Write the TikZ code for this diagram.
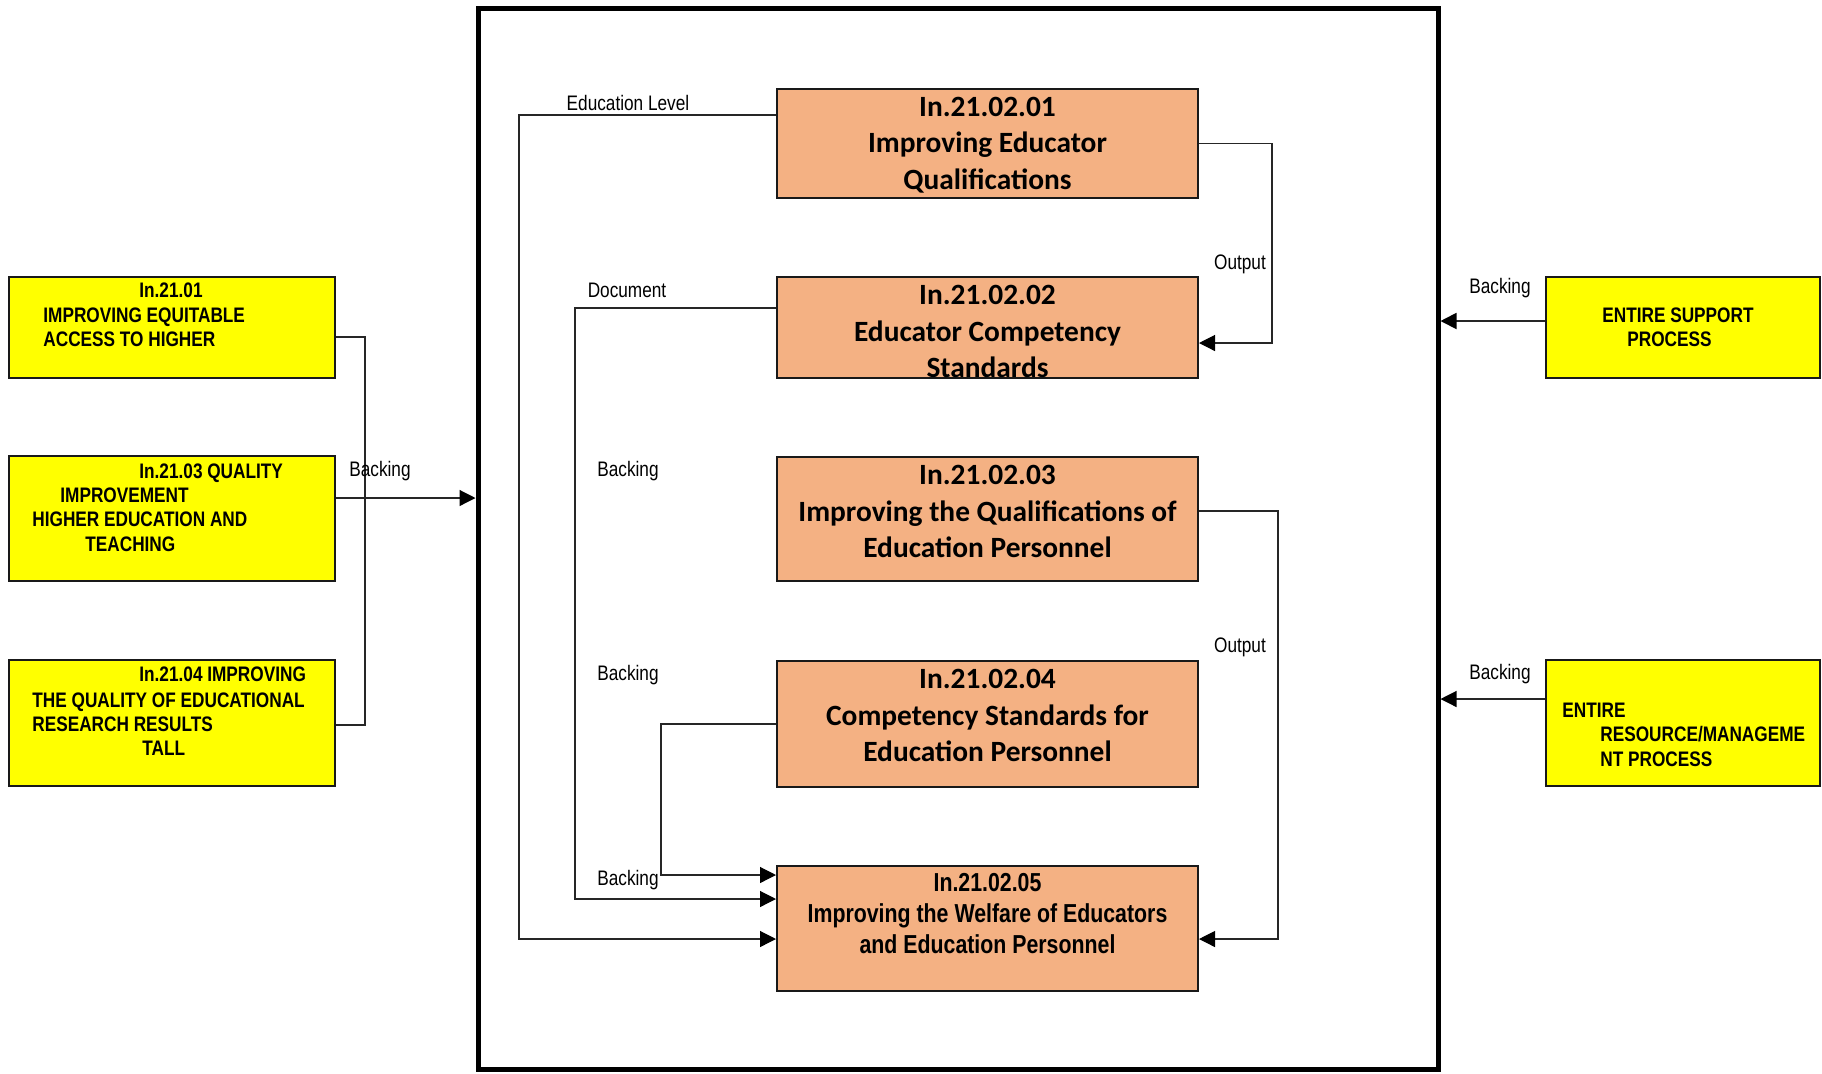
\documentclass[tikz,border=0pt]{standalone}
\usepackage{fontspec}
\usetikzlibrary{arrows.meta,calc}
\newfontfamily\narrowfont[FakeStretch=0.82]{Liberation Sans}
\newfontfamily\calfont{Carlito}
\definecolor{procfill}{HTML}{F4B183}
\definecolor{extfill}{HTML}{FFFF00}
\definecolor{wire}{gray}{0.15}

\begin{document}
\begin{tikzpicture}[x=0.5pt,y=-0.5pt,
  procbox/.style={draw=black!90,line width=1pt,fill=procfill,minimum width=210.5pt,inner sep=0pt},
  extbox/.style={draw=black!90,line width=1pt,fill=extfill,inner sep=0pt},
  proctext/.style={font=\calfont\bfseries\fontsize{14.7}{18.2}\selectfont,align=center,inner sep=0pt},
  welftext/.style={font=\narrowfont\bfseries\fontsize{13}{15.6}\selectfont,align=center,inner sep=0pt},
  ytext/.style={font=\narrowfont\bfseries\fontsize{10.5}{12}\selectfont,inner sep=0pt,anchor=base west},
  lbl/.style={font=\narrowfont\fontsize{10.5}{12}\selectfont,inner sep=0pt},
  conn/.style={draw=wire,line width=0.6pt},
  arr/.style={-{Triangle[length=8pt,width=8pt,color=black]}},
]
\useasboundingbox (0,0) rectangle (1822,1073);

% system boundary
\node[draw,line width=2.5pt,minimum width=480pt,minimum height=530.5pt,inner sep=0pt] (sys) at (958,538.5) {};

% inner process boxes
\node[procbox,minimum height=54.5pt] (o1) at (987.5,143.5) {};
\node[procbox,minimum height=50.5pt] (o2) at (987.5,327.5) {};
\node[procbox,minimum height=62pt]   (o3) at (987.5,519) {};
\node[procbox,minimum height=63pt]   (o4) at (987.5,724) {};
\node[procbox,minimum height=62.5pt] (o5) at (987.5,928.5) {};

% external boxes, left
\node[extbox,minimum width=163pt,minimum height=50.5pt] (yA) at (172,327.5) {};
\node[extbox,minimum width=163pt,minimum height=62.5pt] (yB) at (172,518.5) {};
\node[extbox,minimum width=163pt,minimum height=63pt]   (yC) at (172,723) {};
% external boxes, right
\node[extbox,minimum width=137pt,minimum height=50.5pt] (yD) at (1683,327.5) {};
\node[extbox,minimum width=137pt,minimum height=63pt]   (yE) at (1683,723) {};

% left inputs joined on one bus
\draw[conn] ([yshift=-4.75pt]yA.east) -- ++(14.5pt,0) |- ([yshift=-1pt]yC.east);
\coordinate (bOut) at ([yshift=10.25pt]yB.east);
\draw[conn,arr] (bOut) -- (bOut -| sys.west);

% right supports
\coordinate (dOut) at ([yshift=3.25pt]yD.west);
\draw[conn,arr,line width=0.9pt] (dOut) -- (dOut -| sys.east);
\coordinate (eOut) at ([yshift=12pt]yE.west);
\draw[conn,arr] (eOut) -- (eOut -| sys.east);

% inner flows
\draw[conn,arr] ([yshift=14.25pt]o1.west) -- ++(-128.5pt,0) |- ([yshift=-5.25pt]o5.west);
\draw[conn,arr] ([yshift=9.75pt]o2.west) -- ++(-100.5pt,0) |- ([yshift=14.75pt]o5.west);
\draw[conn,arr] (o4.west) -- ++(-57.5pt,0) |- ([yshift=26.75pt]o5.west);
\draw[conn,arr] (o1.east) -- ++(36.5pt,0) |- ([yshift=-7.75pt]o2.east);
\draw[conn,arr] ([yshift=4pt]o3.east) -- ++(39.5pt,0) |- ([yshift=-5.25pt]o5.east);

% process titles
\node[proctext] (t1) at (987.5,145) {In.21.02.01\\Improving Educator\\Qualifications};
\node[proctext] (t2) at (987.5,331.5) {In.21.02.02\\Educator Competency\\Standards};
\node[proctext] (t3) at (987.5,511.5) {In.21.02.03\\Improving the Qualifications of\\Education Personnel};
\node[proctext] (t4) at (987.5,715.5) {In.21.02.04\\Competency Standards for\\Education Personnel};
\node[welftext] (t5) at (987.5,913.5) {In.21.02.05\\Improving the Welfare of Educators\\and Education Personnel};

% external box texts
\node[ytext] (a1) at (139,297.5) {In.21.01};
\node[ytext] (a2) at (43,322.5) {IMPROVING EQUITABLE};
\node[ytext] (a3) at (43,346.5) {ACCESS TO HIGHER};

\node[ytext] (b1) at (139,478.5) {In.21.03 QUALITY};
\node[ytext] (b2) at (60,502.5) {IMPROVEMENT};
\node[ytext] (b3) at (32,526.5) {HIGHER EDUCATION AND};
\node[ytext] (b4) at (85,551.5) {TEACHING};

\node[ytext] (c1) at (139,681.5) {In.21.04 IMPROVING};
\node[ytext] (c2) at (32,707.5) {THE QUALITY OF EDUCATIONAL};
\node[ytext] (c3) at (32,731.5) {RESEARCH RESULTS};
\node[ytext] (c4) at (142,755.5) {TALL};

\node[ytext] (d1) at (1602,322.5) {ENTIRE SUPPORT};
\node[ytext] (d2) at (1627,346.5) {PROCESS};

\node[ytext] (e1) at (1562,717.5) {ENTIRE};
\node[ytext] (e2) at (1600,741.5) {RESOURCE/MANAGEME};
\node[ytext] (e3) at (1600,766.5) {NT PROCESS};

% connector labels
\node[lbl] (lEdu) at (628,103) {Education Level};
\node[lbl] (lDoc) at (627,290) {Document};
\node[lbl] (lB1) at (628,471) {Backing};
\node[lbl] (lB2) at (628,675) {Backing};
\node[lbl] (lB3) at (628,880) {Backing};
\node[lbl] (lO1) at (1240,264) {Output};
\node[lbl] (lO2) at (1240,647) {Output};
\node[lbl] (lBL) at (380,471) {Backing};
\node[lbl] (lBR1) at (1500,288) {Backing};
\node[lbl] (lBR2) at (1500,674) {Backing};
\end{tikzpicture}
\end{document}
